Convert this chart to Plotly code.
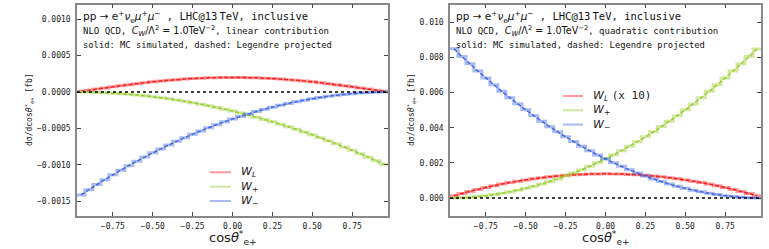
import plotly.graph_objects as go

# bin centres of cos(theta*) histogram (width 0.05)
cos_centers = [-0.95, -0.90, -0.85, -0.80, -0.75, -0.70, -0.65, -0.60, -0.55, -0.50,
               -0.45, -0.40, -0.35, -0.30, -0.25, -0.20, -0.15, -0.10, -0.05, 0.00,
               0.05, 0.10, 0.15, 0.20, 0.25, 0.30, 0.35, 0.40, 0.45, 0.50,
               0.55, 0.60, 0.65, 0.70, 0.75, 0.80, 0.85, 0.90, 0.95]
bin_width = 0.05

# ---- linear contribution (units 1e-4 fb) ----
lin_WL = [0.109, 0.251, 0.403, 0.558, 0.712, 0.862, 1.007, 1.145, 1.275, 1.396,
          1.507, 1.608, 1.699, 1.778, 1.845, 1.900, 1.944, 1.975, 1.994, 2.000,
          1.994, 1.975, 1.944, 1.900, 1.845, 1.778, 1.699, 1.608, 1.507, 1.396,
          1.275, 1.145, 1.007, 0.862, 0.712, 0.558, 0.403, 0.251, 0.109]
lin_Wp = [-0.007, -0.026, -0.059, -0.105, -0.163, -0.235, -0.320, -0.418, -0.530, -0.654,
          -0.791, -0.942, -1.105, -1.282, -1.471, -1.674, -1.890, -2.118, -2.360, -2.615,
          -2.883, -3.165, -3.459, -3.766, -4.087, -4.420, -4.767, -5.126, -5.499, -5.885,
          -6.283, -6.695, -7.120, -7.558, -8.010, -8.474, -8.951, -9.442, -9.945]
lin_Wm = [-14.138, -13.422, -12.725, -12.046, -11.386, -10.745, -10.122, -9.518, -8.932, -8.365,
          -7.817, -7.288, -6.776, -6.283, -5.809, -5.354, -4.917, -4.499, -4.099, -3.718,
          -3.355, -3.012, -2.686, -2.380, -2.091, -1.822, -1.571, -1.338, -1.125, -0.929,
          -0.753, -0.595, -0.455, -0.335, -0.232, -0.149, -0.084, -0.037, -0.009]

# ---- quadratic contribution (units 1e-3 fb) ----
quad_WL = [0.135, 0.262, 0.383, 0.497, 0.604, 0.704, 0.797, 0.883, 0.963, 1.035,
           1.101, 1.159, 1.211, 1.256, 1.294, 1.325, 1.349, 1.366, 1.377, 1.380,
           1.377, 1.366, 1.349, 1.325, 1.294, 1.256, 1.211, 1.159, 1.101, 1.035,
           0.963, 0.883, 0.797, 0.704, 0.604, 0.497, 0.383, 0.262, 0.135]
quad_Wp = [0.006, 0.022, 0.050, 0.089, 0.139, 0.201, 0.273, 0.357, 0.452, 0.558,
           0.675, 0.803, 0.943, 1.093, 1.255, 1.428, 1.612, 1.807, 2.013, 2.231,
           2.459, 2.699, 2.950, 3.212, 3.486, 3.770, 4.066, 4.372, 4.690, 5.019,
           5.359, 5.711, 6.073, 6.447, 6.832, 7.228, 7.635, 8.053, 8.483]
quad_Wm = [8.490, 8.050, 7.640, 7.225, 6.835, 6.445, 6.075, 5.710, 5.360, 5.020,
           4.688, 4.374, 4.064, 3.772, 3.484, 3.214, 2.948, 2.700, 2.457, 2.232,
           2.012, 1.808, 1.611, 1.429, 1.254, 1.094, 0.942, 0.804, 0.674, 0.559,
           0.451, 0.358, 0.272, 0.202, 0.138, 0.090, 0.049, 0.023, 0.005]

lin_scale = 1e-4
quad_scale = 1e-3

x_ticks = [-0.75, -0.50, -0.25, 0.00, 0.25, 0.50, 0.75]
lin_yticks = [-0.0015, -0.0010, -0.0005, 0.0000, 0.0005, 0.0010]
quad_yticks = [0.000, 0.002, 0.004, 0.006, 0.008, 0.010]

legend_names_lin = ["<i>W</i><sub><i>L</i></sub>", "<i>W</i><sub>+</sub>", "<i>W</i><sub>−</sub>"]
legend_names_quad = ['<i>W</i><sub><i>L</i></sub> <span style="font-family:DejaVu Sans Mono">(x 10)</span>',
                     "<i>W</i><sub>+</sub>", "<i>W</i><sub>−</sub>"]

colors = ["#ff1a1a", "#9acd32", "#4169e1"]
colors_light = ["rgba(255,26,26,0.45)", "rgba(154,205,50,0.45)", "rgba(65,105,225,0.45)"]

MONO = "DejaVu Sans Mono"
SANS = "DejaVu Sans"
W, H = 769, 249

fig = go.Figure()

edges = [c - bin_width / 2 for c in cos_centers] + [cos_centers[-1] + bin_width / 2]


def add_series(vals, scale, name, col, col_l, xa, ya):
    yv = [v * scale for v in vals]
    fig.add_trace(go.Scatter(x=edges, y=yv + [yv[-1]], mode="lines", line_shape="hv",
                             line=dict(color=col_l, width=3), name=name, xaxis=xa, yaxis=ya,
                             showlegend=False))
    fig.add_trace(go.Scatter(x=cos_centers, y=yv, mode="lines", line_shape="spline",
                             line=dict(color=col, width=1.5, dash="4px,2px"), xaxis=xa, yaxis=ya,
                             showlegend=False, hoverinfo="skip"))


for vals, nm, c, cl in zip([lin_WL, lin_Wp, lin_Wm], legend_names_lin, colors, colors_light):
    add_series(vals, lin_scale, nm, c, cl, "x", "y")
for vals, nm, c, cl in zip([quad_WL, quad_Wp, quad_Wm], legend_names_quad, colors, colors_light):
    add_series(vals, quad_scale, nm, c, cl, "x2", "y2")

ax_common = dict(range=[-0.975, 0.975], tickvals=x_ticks, tickformat=".2f",
                 ticks="inside", ticklen=4, tickcolor="#444", mirror="ticks", automargin=False,
                 showline=True, linecolor="#888", linewidth=1.5, showgrid=False, zeroline=False,
                 ticklabelstandoff=2,
                 tickfont=dict(family=MONO, size=8, color="#222"))
ay_common = dict(ticks="inside", ticklen=4, tickcolor="#444", mirror="ticks", automargin=False,
                 showline=True, linecolor="#888", linewidth=1.5, showgrid=False, zeroline=False,
                 ticklabelstandoff=3,
                 tickfont=dict(family=MONO, size=8, color="#222"))

ytop = 1 - 4.7 / H
ybot = 1 - 215.7 / H

fig.update_layout(
    width=W, height=H, margin=dict(l=0, r=0, t=0, b=0),
    paper_bgcolor="white", plot_bgcolor="white", showlegend=False,
    xaxis=dict(domain=[77 / W, 388 / W], anchor="y", **ax_common),
    xaxis2=dict(domain=[450 / W, 761 / W], anchor="y2", **ax_common),
    yaxis=dict(domain=[ybot, ytop], anchor="x", range=[-0.0017, 0.0012], tickvals=lin_yticks,
               tickformat=".4f", **ay_common),
    yaxis2=dict(domain=[ybot, ytop], anchor="x2", range=[-0.001, 0.011], tickvals=quad_yticks,
                tickformat=".3f", **ay_common),
)

for xr, yr in [("x", "y"), ("x2", "y2")]:
    fig.add_shape(type="line", xref=f"{xr} domain", yref=yr, x0=0, x1=1, y0=0, y1=0,
                  line=dict(color="black", width=1.5, dash="dot"))

# axis titles
xtitle = "cos<i>θ</i><sup>*</sup><sub>e+</sub>"
ytitle = 'dσ/dcos<i>θ</i><sup>*</sup><sub>e+</sub> [fb]'
for cx in [233, 606]:
    fig.add_annotation(xref="paper", yref="paper", x=cx / W, y=1 - 238 / H, text=xtitle,
                       showarrow=False, xanchor="center", yanchor="middle",
                       font=dict(family=SANS, size=13, color="#222"))
for cx in [30, 412]:
    fig.add_annotation(xref="paper", yref="paper", x=cx / W, y=1 - 110 / H, text=ytitle,
                       showarrow=False, xanchor="center", yanchor="middle", textangle=-90,
                       font=dict(family=MONO, size=8, color="#222"))

# in-plot text
THIN = '<span style="font-family:DejaVu Sans">\u2009</span>'
line1 = ('<span style="font-family:DejaVu Sans">pp → e<sup>+</sup><i>ν</i><sub>e</sub>'
         '<i>μ</i><sup>+</sup><i>μ</i><sup>−</sup></span> , LHC@13' + THIN + 'TeV, inclusive')
MATH2 = ('<span style="font-family:DejaVu Sans;font-size:9.6px"><i>C</i><sub><i>W</i></sub>/Λ<sup>2</sup>'
         ' = 1.0TeV<sup>−2</sup></span>')
line2 = {
    "x": "NLO QCD, " + MATH2 + ", linear contribution",
    "x2": "NLO QCD, " + MATH2 + ", quadratic contribution",
}
line3 = "solid: MC simulated, dashed: Legendre projected"
for xr, x0px in [("x", 81), ("x2", 454)]:
    for t, ypx, fs in [(line1, 17, 10.5), (line2[xr], 31, 9), (line3, 45, 8.8)]:
        fig.add_annotation(xref="paper", yref="paper", x=x0px / W, y=1 - ypx / H,
                           xanchor="left", yanchor="middle", text=t, showarrow=False,
                           font=dict(family=MONO, size=fs, color="#111"))

# manual legends
legend_specs = [
    (legend_names_lin, 210, 231, 239, [172.3, 186.7, 201.0]),
    (legend_names_quad, 563, 583, 591, [96.0, 110.3, 124.6]),
]
for names, lx0, lx1, tx, ys in legend_specs:
    for nm, cl, ypx in zip(names, colors_light, ys):
        yp = 1 - ypx / H
        fig.add_shape(type="line", xref="paper", yref="paper", x0=lx0 / W, x1=lx1 / W,
                      y0=yp, y1=yp, line=dict(color=cl, width=2))
        fig.add_annotation(xref="paper", yref="paper", x=tx / W, y=yp, text=nm, showarrow=False,
                           xanchor="left", yanchor="middle",
                           font=dict(family=SANS, size=11, color="#222"))

fig.write_html("out.html", config={"displayModeBar": False},
               post_script="document.body.style.margin='0';document.body.style.overflow='hidden';")
